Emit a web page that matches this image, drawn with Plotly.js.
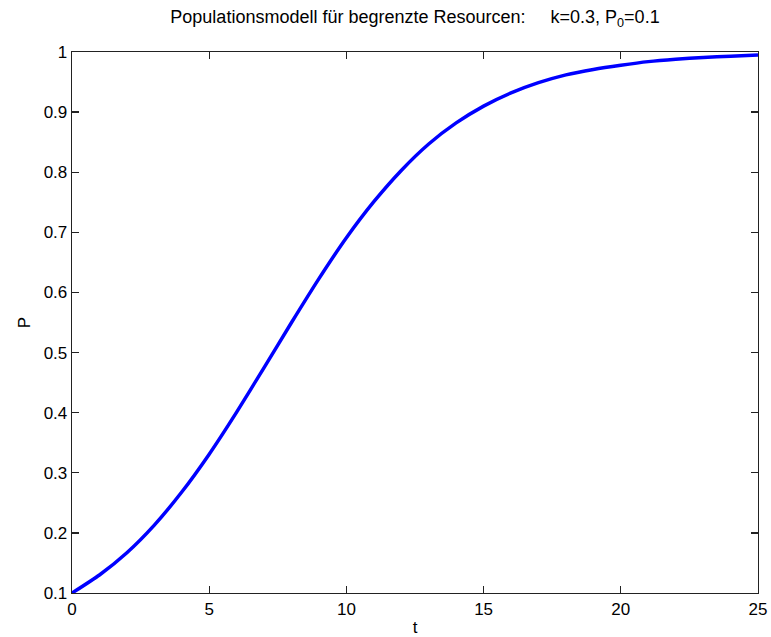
<!DOCTYPE html>
<html>
<head>
<meta charset="utf-8">
<script src="https://cdn.plot.ly/plotly-3.0.1.min.js"></script>
<style>html,body{margin:0;padding:0;background:#fff;}#chart{width:771px;height:637px;}</style>
</head>
<body>
<div id="chart"></div>
<script>
// time values
const tValues = [0,1,2,3,4,5,6,7,8,9,10,11,12,13,14,15,16,17,18,19,20,21,22,23,24,25];
// population values
const pValues = [0.100,0.130,0.167,0.213,0.268,0.331,0.401,0.475,0.550,0.623,0.691,0.751,0.803,0.847,0.882,0.910,0.932,0.949,0.962,0.971,0.978,0.984,0.988,0.991,0.993,0.995];
const xTickVals = [0,5,10,15,20,25];
const xTickText = ["0","5","10","15","20","25"];
const yTickVals = [0.1,0.2,0.3,0.4,0.5,0.6,0.7,0.8,0.9,1];
const yTickText = ["0.1","0.2","0.3","0.4","0.5","0.6","0.7","0.8","0.9","1"];
const titleText = "Populationsmodell für begrenzte Resourcen:\u00a0\u00a0\u00a0\u00a0 k=0.3, P<sub>0</sub>=0.1";

const font = {family: "Liberation Sans, Arial, sans-serif", size: 17, color: "#000"};
const titleFont = {family: "Liberation Sans, Arial, sans-serif", size: 18, color: "#000"};

const trace = {
  x: tValues, y: pValues, type: "scatter", mode: "lines",
  line: {color: "#0000ff", width: 3.5, shape: "spline", smoothing: 0.6},
  hoverinfo: "skip"
};

const axisCommon = {
  showgrid: false, zeroline: false, showline: true, linecolor: "#222", linewidth: 1.3,
  mirror: "ticks", ticks: "inside", ticklen: 7, tickwidth: 1.3, tickcolor: "#222",
  tickfont: font, fixedrange: true
};

const layout = {
  width: 771, height: 637,
  margin: {l: 72, r: 13, t: 52, b: 44},
  paper_bgcolor: "#fff", plot_bgcolor: "#fff",
  font: font,
  showlegend: false,
  title: {text: titleText, font: titleFont, x: 0.5, xref: "paper", xanchor: "center", y: 1 - 17/637, yref: "container", yanchor: "middle"},
  xaxis: Object.assign({}, axisCommon, {range: [0, 25], tickmode: "array", tickvals: xTickVals, ticktext: xTickText,
    title: {text: "t", font: font, standoff: 4}}),
  yaxis: Object.assign({}, axisCommon, {range: [0.1, 1], tickmode: "array", tickvals: yTickVals, ticktext: yTickText,
    title: {text: "P", font: font, standoff: 8}})
};

Plotly.newPlot("chart", [trace], layout, {displayModeBar: false, staticPlot: true});
</script>
</body>
</html>
